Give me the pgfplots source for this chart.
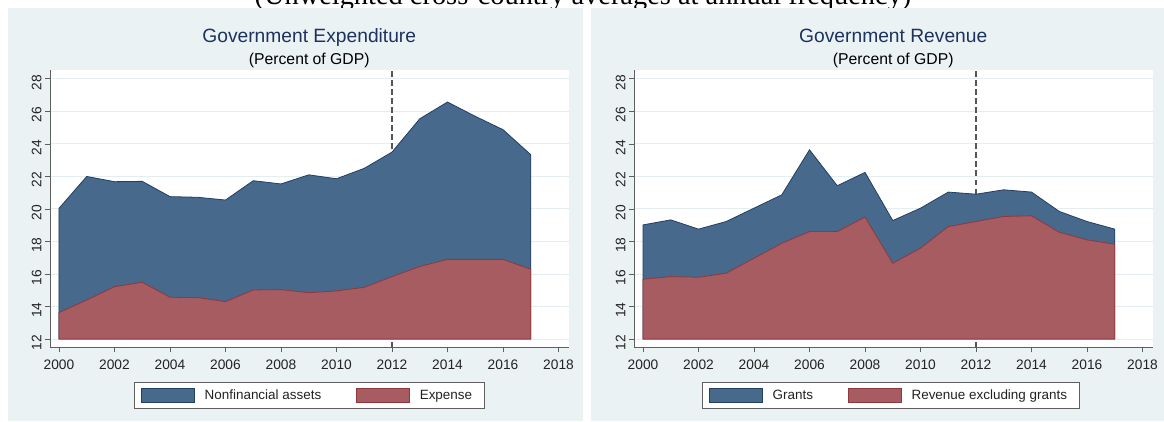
\documentclass[border=0pt]{standalone}
\usepackage{pgfplots}
\pgfplotsset{compat=1.18}
\usepackage{fontspec}
\setmainfont{Liberation Sans}
\newfontfamily\timesf{Liberation Serif}
\definecolor{bgc}{RGB}{234,242,243}
\definecolor{titlec}{RGB}{30,50,95}
\definecolor{blueA}{RGB}{71,105,139}
\definecolor{blueE}{RGB}{35,62,98}
\definecolor{redA}{RGB}{166,92,97}
\definecolor{redE}{RGB}{145,55,62}
\definecolor{gridc}{RGB}{228,237,240}
\definecolor{axisc}{RGB}{95,95,95}
\definecolor{dashc}{RGB}{85,85,85}
\definecolor{labc}{RGB}{35,35,35}

\pgfplotsset{
  panel/.style={
    scale only axis, width=518.5bp, height=277bp,
    xmin=1999.676, xmax=2018.36, ymin=11.51, ymax=28.55,
    axis x line*=bottom, axis y line*=left,
    axis line style={draw=axisc, line width=0.9bp, -},
    xtick={2000,2002,...,2018}, ytick={12,14,...,28},
    /pgf/number format/assume math mode=true,
    /pgf/number format/1000 sep={},
    tick label style={font=\fontsize{13.8}{14}\selectfont, text=labc},
    xticklabel style={yshift=-4.5bp},
    yticklabel style={rotate=90, anchor=south, xshift=-3.5bp},
    tick align=outside, major tick length=5bp,
    tick style={draw=axisc, line width=0.9bp},
    ymajorgrids, grid style={draw=gridc, line width=1bp},
    axis background/.style={fill=white},
    legend columns=2,
    legend image code/.code={\draw[##1] (0bp,-7bp) rectangle (53.5bp,7bp);},
    legend style={anchor=north west, draw=axisc, line width=0.9bp, fill=white,
      inner xsep=5.9bp, inner ysep=5.5bp,
      column sep=3.3bp,
      /tikz/every even column/.append style={column sep=28.3bp},
      font=\fontsize{13.5}{14}\selectfont,
      nodes={inner xsep=6.3bp, inner ysep=0pt, text=labc}},
  },
  vline/.style={draw=dashc, line width=1.5bp, dash pattern=on 5.5bp off 3.5bp, forget plot},
  topA/.style={fill=blueA, draw=blueE, line width=0.8bp},
  botA/.style={fill=redA, draw=redE, line width=0.8bp},
}

\begin{document}
\begin{tikzpicture}[x=1bp,y=1bp]
\path[use as bounding box] (0,0) rectangle (1164,421);
\node[anchor=base, inner sep=0pt, font=\timesf\fontsize{28.5}{30}\selectfont] at (583,416) {(Unweighted cross-country averages at annual frequency)};
\fill[bgc] (8,0) rectangle (583,413);
\fill[bgc] (591,0) rectangle (1166,413);

% titles
\node[anchor=base, inner sep=0pt, text=titlec, font=\fontsize{19.3}{20}\selectfont] at (309.25,378.3) {Government Expenditure};
\node[anchor=base, inner sep=0pt, text=black, font=\fontsize{15.8}{16}\selectfont] at (309.25,356.5) {(Percent of GDP)};
\node[anchor=base, inner sep=0pt, text=titlec, font=\fontsize{19.3}{20}\selectfont] at (893.25,378.3) {Government Revenue};
\node[anchor=base, inner sep=0pt, text=black, font=\fontsize{15.8}{16}\selectfont] at (893.25,356.5) {(Percent of GDP)};

\begin{axis}[panel, at={(50bp,74bp)}, anchor=south west,
  legend style={at={(0.1628,-0.1264)}}]
\addplot[vline] coordinates {(2012,11.51) (2012,28.55)};
\addplot[topA] coordinates {
 (2000,12) (2000,20.04) (2001,22.0) (2002,21.68) (2003,21.7) (2004,20.76) (2005,20.72)
 (2006,20.55) (2007,21.74) (2008,21.54) (2009,22.1) (2010,21.86) (2011,22.5)
 (2012,23.5) (2013,25.55) (2014,26.58) (2015,25.7) (2016,24.88) (2017,23.34) (2017,12)
} -- cycle;
\addplot[botA] coordinates {
 (2000,12) (2000,13.62) (2001,14.4) (2002,15.22) (2003,15.49) (2004,14.57) (2005,14.55)
 (2006,14.3) (2007,15.02) (2008,15.04) (2009,14.85) (2010,14.96) (2011,15.18)
 (2012,15.84) (2013,16.46) (2014,16.9) (2015,16.9) (2016,16.9) (2017,16.29) (2017,12)
} -- cycle;
\legend{Nonfinancial assets, Expense}
\end{axis}

\begin{axis}[panel, at={(634bp,74bp)}, anchor=south west,
  legend style={at={(0.132,-0.1264)}}]
\addplot[vline] coordinates {(2012,11.51) (2012,28.55)};
\addplot[topA] coordinates {
 (2000,12) (2000,19.02) (2001,19.33) (2002,18.76) (2003,19.23) (2004,20.05) (2005,20.87)
 (2006,23.64) (2007,21.43) (2008,22.25) (2009,19.29) (2010,20.05) (2011,21.04)
 (2012,20.91) (2013,21.18) (2014,21.04) (2015,19.85) (2016,19.23) (2017,18.76) (2017,12)
} -- cycle;
\addplot[botA] coordinates {
 (2000,12) (2000,15.68) (2001,15.84) (2002,15.8) (2003,16.05) (2004,16.97) (2005,17.89)
 (2006,18.61) (2007,18.61) (2008,19.5) (2009,16.66) (2010,17.59) (2011,18.92)
 (2012,19.23) (2013,19.54) (2014,19.58) (2015,18.57) (2016,18.1) (2017,17.83) (2017,12)
} -- cycle;
\legend{Grants, Revenue excluding grants}
\end{axis}
\end{tikzpicture}
\end{document}
